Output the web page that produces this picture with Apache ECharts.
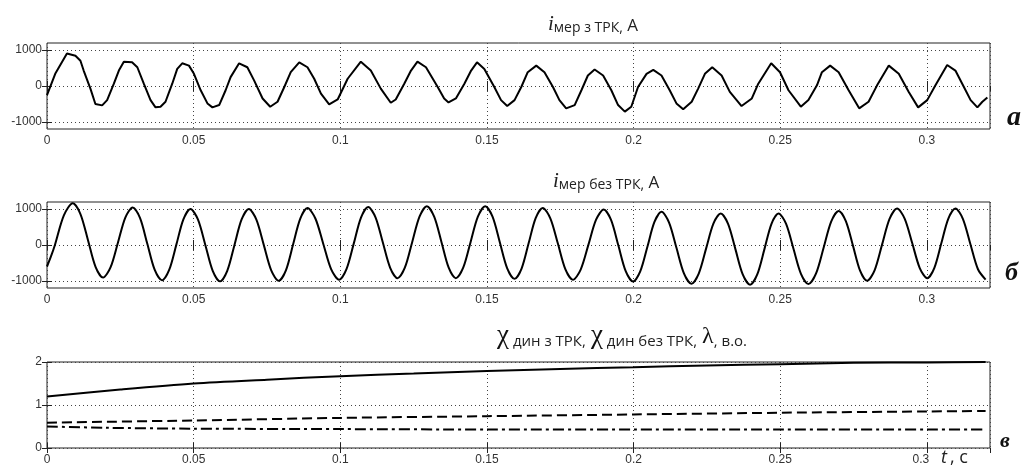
<!DOCTYPE html>
<html>
<head>
<meta charset="utf-8">
<script src="https://cdn.jsdelivr.net/npm/echarts@6/dist/echarts.min.js"></script>
<style>
  html, body { margin: 0; padding: 0; background: #fff; }
  #container { width: 1024px; height: 466px; }
</style>
</head>
<body>
<div id="container"></div>
<script>
// time, s
var tTicks = [0, 0.05, 0.1, 0.15, 0.2, 0.25, 0.3];
var tMax = 0.3215;
var iTicks = [-1000, 0, 1000];
var kTicks = [0, 1, 2];

// i мер з ТРК, A  (t, value)
var iWith = [
  [0,-257],[0.0028,340],[0.0068,908],[0.0097,844],[0.0114,706],[0.0125,431],[0.0148,-73],[0.0165,-504],[0.0188,-541],
  [0.0205,-394],[0.0228,64],[0.0245,431],[0.0262,679],[0.029,660],[0.0308,523],[0.033,64],[0.0353,-394],[0.037,-596],
  [0.0387,-578],[0.0404,-440],[0.0427,64],[0.0444,477],[0.0461,633],[0.0484,569],[0.0501,339],[0.0524,-119],[0.0547,-486],
  [0.0564,-596],[0.0587,-532],[0.0609,-119],[0.0626,248],[0.0655,633],[0.0683,523],[0.0706,156],[0.0735,-348],[0.0761,-578],
  [0.0786,-440],[0.0809,-28],[0.0831,385],[0.086,660],[0.0888,523],[0.0911,202],[0.0934,-211],[0.0962,-514],[0.0991,-376],
  [0.1025,202],[0.107,679],[0.1104,431],[0.1138,-73],[0.1172,-468],[0.1189,-376],[0.1218,64],[0.1241,431],[0.1263,679],
  [0.1292,523],[0.1332,-28],[0.1354,-348],[0.1369,-458],[0.1394,-348],[0.1423,64],[0.1446,431],[0.1466,660],[0.1491,477],
  [0.1525,-28],[0.1548,-394],[0.1569,-559],[0.1594,-394],[0.1617,-28],[0.1639,385],[0.1668,569],[0.1696,385],[0.1725,-28],
  [0.1747,-394],[0.177,-624],[0.1799,-532],[0.1822,-119],[0.1844,293],[0.1867,459],[0.1896,293],[0.1924,-119],[0.1947,-532],
  [0.197,-715],[0.1992,-578],[0.2015,-28],[0.2044,339],[0.2067,449],[0.2095,293],[0.2123,-119],[0.2146,-486],[0.2169,-651],
  [0.2198,-440],[0.222,-73],[0.2243,339],[0.2268,523],[0.23,293],[0.2328,-165],[0.2368,-559],[0.2403,-348],[0.2425,64],
  [0.2469,633],[0.2499,385],[0.2528,-119],[0.257,-578],[0.2596,-394],[0.2625,18],[0.2642,385],[0.267,569],[0.2699,385],
  [0.2733,-119],[0.2769,-624],[0.2801,-440],[0.283,18],[0.287,569],[0.2904,339],[0.2938,-165],[0.297,-596],[0.3001,-394],
  [0.3029,18],[0.3069,587],[0.3097,431],[0.3126,-28],[0.3149,-394],[0.3172,-596],[0.3189,-440],[0.3206,-321]
];

// i мер без ТРК, A  (peaks, troughs, mid-swing and shoulder points)
var iWithout = [
  [0,-600],[0.00135,-320],[0.0027,0],[0.00575,827],[0.0088,1165],[0.0114,864],[0.014,128],[0.01655,-609],[0.0191,-910],
  [0.02165,-626],[0.0242,70],[0.0267,766],[0.0292,1050],[0.0317,755],[0.0342,33],[0.0367,-690],[0.0392,-985],
  [0.04165,-696],[0.0441,10],[0.0465,716],[0.0489,1005],[0.05145,712],[0.054,-5],[0.0565,-722],[0.059,-1015],
  [0.06145,-722],[0.0639,-5],[0.06635,712],[0.0688,1005],[0.07135,714],[0.0739,3],[0.07645,-709],[0.079,-1000],
  [0.08145,-706],[0.0839,15],[0.08635,736],[0.0888,1030],[0.0915,740],[0.0942,30],[0.0969,-680],[0.0996,-970],
  [0.1021,-676],[0.1046,45],[0.10705,766],[0.1095,1060],[0.112,772],[0.1145,68],[0.117,-637],[0.1195,-925],
  [0.122,-634],[0.1245,79],[0.127,792],[0.1295,1083],[0.132,792],[0.1345,79],[0.13695,-634],[0.1394,-925],
  [0.1419,-634],[0.1444,79],[0.1469,792],[0.1494,1083],[0.1519,789],[0.1544,69],[0.1569,-651],[0.1594,-945],
  [0.1618,-658],[0.1642,46],[0.1666,749],[0.169,1036],[0.1716,745],[0.1742,33],[0.17675,-679],[0.1793,-970],
  [0.18195,-686],[0.1846,10],[0.1872,706],[0.1898,990],[0.1923,699],[0.1948,-15],[0.1973,-729],[0.1998,-1020],
  [0.20225,-738],[0.2047,-48],[0.2071,642],[0.2095,925],[0.21205,634],[0.2146,-79],[0.21715,-792],[0.2197,-1083],
  [0.2222,-799],[0.2247,-102],[0.2272,595],[0.2297,880],[0.2322,591],[0.2347,-115],[0.2372,-821],[0.2397,-1110],
  [0.24215,-821],[0.2446,-115],[0.247,591],[0.2494,880],[0.25195,594],[0.2545,-105],[0.25705,-804],[0.2596,-1090],
  [0.2622,-794],[0.2648,-70],[0.26735,654],[0.2699,950],[0.27235,667],[0.2748,-25],[0.2772,-717],[0.2796,-1000],
  [0.28215,-707],[0.2847,10],[0.28725,727],[0.2898,1020],[0.2924,738],[0.295,48],[0.29755,-643],[0.3001,-925],
  [0.3025,-643],[0.3049,48],[0.3073,738],[0.3097,1020],[0.31225,732],[0.3148,28],[0.3174,-677],[0.32,-965]
];

// χ дин з ТРК, χ дин без ТРК, λ, в.о.
var chiWith = [[0,1.2],[0.025,1.36],[0.05,1.5],[0.075,1.59],[0.1,1.67],[0.125,1.73],[0.15,1.79],[0.175,1.84],
  [0.2,1.88],[0.225,1.92],[0.25,1.95],[0.275,1.98],[0.3,1.99],[0.32,2.0]];
var chiWithout = [[0,0.59],[0.05,0.64],[0.1,0.7],[0.15,0.74],[0.2,0.78],[0.25,0.82],[0.3,0.85],[0.32,0.86]];
var lambda = [[0,0.5],[0.02,0.47],[0.05,0.45],[0.1,0.44],[0.15,0.43],[0.2,0.43],[0.25,0.43],[0.3,0.43],[0.32,0.43]];

var dom = document.getElementById('container');
var myChart = echarts.init(dom);

var tops = [43, 202, 362];
var grids = [], xAxes = [], yAxes = [];
var dotted = { color: '#444', type: [1, 3], width: 1 };
var labelFont = { color: '#333', fontSize: 12, fontFamily: 'Liberation Sans' };

tops.forEach(function (top, g) {
  grids.push({ left: 47, top: top, width: 943, height: 86, show: true,
    borderColor: '#222', borderWidth: 1, backgroundColor: '#fff' });

  // bottom x axis with labels
  xAxes.push({
    type: 'value', gridIndex: g, min: 0, max: tMax, interval: 0.05,
    axisLine: { show: false },
    axisTick: { inside: true, length: 5, lineStyle: { color: '#222' } },
    axisLabel: Object.assign({
      margin: 6, showMaxLabel: false,
      formatter: function (v) {
        var s = String(+v.toFixed(2));
        return (g === 2 && s === '0.3') ? '{l|0.3}' : s;
      },
      rich: { l: { fontSize: 12, fontFamily: 'Liberation Sans', color: '#333', padding: [0, 12, 0, 0] } }
    }, labelFont),
    splitLine: { show: true, lineStyle: dotted }
  });
  // top x axis, ticks only
  xAxes.push({
    type: 'value', gridIndex: g, position: 'top', min: 0, max: tMax, interval: 0.05,
    axisLine: { show: false }, axisLabel: { show: false }, splitLine: { show: false },
    axisTick: { inside: true, length: 5, lineStyle: { color: '#222' } }
  });

  var ticks = g < 2 ? iTicks : kTicks;
  var ymin = g < 2 ? -1200 : 0, ymax = g < 2 ? 1200 : 2;
  yAxes.push({
    type: 'value', gridIndex: g, min: ymin, max: ymax,
    axisLine: { show: false },
    axisTick: { show: true, inside: true, length: 5, customValues: ticks, lineStyle: { color: '#222' } },
    axisLabel: Object.assign({ margin: 5, customValues: ticks, formatter: function (v) { return String(v); } }, labelFont),
    splitLine: { show: true, lineStyle: dotted }
  });
  yAxes.push({
    type: 'value', gridIndex: g, position: 'right', min: ymin, max: ymax,
    axisLine: { show: false }, axisLabel: { show: false }, splitLine: { show: false },
    axisTick: { show: true, inside: true, length: 5, customValues: ticks, lineStyle: { color: '#222' } }
  });
});

function line(name, data, g, lineType, smooth) {
  return {
    name: name, type: 'line', xAxisIndex: 2 * g, yAxisIndex: 2 * g,
    data: data, symbol: 'none', smooth: smooth || false,
    lineStyle: { color: '#000', width: 2, type: lineType || 'solid' },
    itemStyle: { color: '#000' }
  };
}

var titleRich = {
  it: { fontFamily: 'Liberation Serif', fontStyle: 'italic', fontWeight: 'normal', fontSize: 21, color: '#222', verticalAlign: 'bottom', lineHeight: 22 },
  sub: { fontFamily: 'Open Sans', fontWeight: 'normal', fontSize: 14, color: '#222', verticalAlign: 'bottom', lineHeight: 16 },
  big: { fontFamily: 'Open Sans', fontWeight: 'normal', fontSize: 17, color: '#222', verticalAlign: 'bottom', lineHeight: 21 },
  chi: { fontFamily: 'Liberation Serif', fontWeight: 'normal', fontSize: 27, color: '#111', verticalAlign: 'bottom', lineHeight: 25 },
  sub3: { fontFamily: 'Open Sans', fontWeight: 'normal', fontSize: 15, color: '#222', verticalAlign: 'bottom', lineHeight: 16 },
  lam: { fontFamily: 'Liberation Serif', fontWeight: 'normal', fontSize: 24, color: '#111', verticalAlign: 'bottom', lineHeight: 26 },
  sm: { fontFamily: 'Open Sans', fontWeight: 'normal', fontSize: 15, color: '#222', verticalAlign: 'bottom', lineHeight: 21 }
};

option = {
  animation: false,
  backgroundColor: '#fff',
  title: [
    { left: 543, top: 8, text: '{it|i}{sub|мер з ТРК,}{big| A}', textStyle: { fontWeight: 'normal', rich: titleRich } },
    { left: 548, top: 165, text: '{it|i}{sub|мер без ТРК,}{big| A}', textStyle: { fontWeight: 'normal', rich: titleRich } },
    { left: 492, top: 318, text: '{chi|χ}{sub3| дин з ТРК,} {chi|χ}{sub3| дин без ТРК,} {lam|λ}{sm|, в.о.}', textStyle: { fontWeight: 'normal', rich: titleRich } }
  ],
  grid: grids,
  xAxis: xAxes,
  yAxis: yAxes,
  series: [
    line('i мер з ТРК', iWith, 0),
    line('i мер без ТРК', iWithout, 1, 'solid', 0.3),
    line('χ дин з ТРК', chiWith, 2, 'solid', 0.3),
    line('χ дин без ТРК', chiWithout, 2, [10, 5], 0.3),
    line('λ', lambda, 2, [11, 4, 3, 4], 0.3)
  ],
  graphic: [
    { type: 'text', left: 1007, top: 104, style: { text: 'а', font: 'italic bold 28px "Liberation Serif"', fill: '#111' } },
    { type: 'text', left: 1005, top: 260, style: { text: 'б', font: 'italic bold 26px "Liberation Serif"', fill: '#111' } },
    { type: 'text', left: 1000, top: 430, style: { text: 'в', font: 'italic bold 22px "Liberation Serif"', fill: '#111' } },
    { type: 'text', left: 941, top: 449, style: { text: 't', font: 'italic 18px "Open Sans"', fill: '#222' } },
    { type: 'text', left: 950, top: 449, style: { text: ', с', font: '18px "Open Sans"', fill: '#222' } }
  ]
};

if (option && typeof option === 'object') {
  myChart.setOption(option, true);
}
</script>
</body>
</html>
